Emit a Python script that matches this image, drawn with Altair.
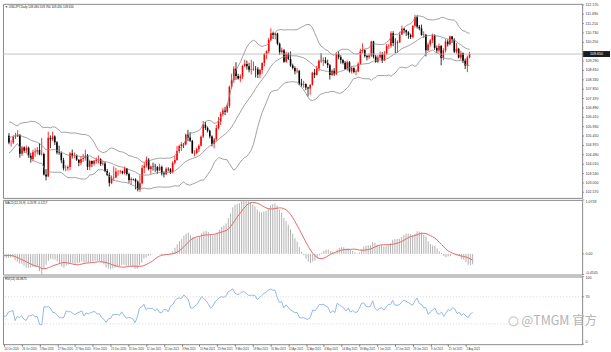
import altair as alt
import pandas as pd

# ---------------- data (USDJPY daily) ----------------
warmup_close = [105.95, 106.17, 106.17, 106.24, 106.25, 106.01, 106.18, 106.15, 106.16, 105.72,
                105.42, 104.95, 104.71, 104.57, 104.64, 104.94, 105.38, 105.39, 105.59, 105.49,
                105.68, 105.47, 105.54, 105.31, 105.73, 105.69, 105.97, 106.03, 105.61, 105.32, 105.47]

opens = [105.47, 105.12, 105.12, 105.40, 105.43, 105.51, 104.55, 104.87, 104.70, 104.85,
         104.44, 104.28, 104.62, 104.66, 104.73, 104.51, 104.53, 103.48, 103.38, 105.36,
         105.28, 105.43, 105.13, 104.61, 104.58, 104.21, 103.80, 103.80, 103.86, 104.56,
         104.44, 104.45, 104.24, 104.08, 104.27, 104.33, 104.45, 103.88, 104.17, 104.03,
         104.18, 104.24, 104.26, 104.02, 104.05, 103.66, 103.46, 103.05, 103.31, 103.33,
         103.63, 103.63, 103.65, 103.55, 103.80, 103.51, 103.20, 103.25, 103.22, 103.12,
         102.71, 103.04, 103.82, 103.94, 104.24, 103.76, 103.89, 103.88, 103.86, 103.69,
         103.87, 103.54, 103.50, 103.77, 103.75, 103.60, 104.08, 104.23, 104.68, 104.94,
         105.04, 105.02, 105.52, 105.38, 105.21, 104.56, 104.58, 104.78, 104.96, 105.42,
         106.04, 105.87, 105.72, 105.43, 105.06, 105.28, 105.86, 106.20, 106.57, 106.76,
         106.70, 107.00, 107.98, 108.31, 108.90, 108.52, 108.40, 108.50, 109.04, 109.14,
         109.02, 108.84, 108.86, 108.89, 108.87, 108.60, 108.83, 109.19, 109.65, 109.80,
         110.38, 110.72, 110.63, 110.70, 110.18, 109.75, 109.85, 109.26, 109.67, 109.40,
         109.07, 108.94, 108.77, 108.79, 108.14, 108.08, 108.11, 107.94, 107.89, 108.08,
         108.69, 108.59, 108.91, 109.31, 109.30, 109.33, 109.19, 109.08, 108.58, 108.80,
         108.61, 109.66, 109.49, 109.35, 109.20, 108.89, 109.23, 108.76, 108.94, 108.73,
         108.76, 109.15, 109.82, 109.86, 109.55, 109.48, 109.57, 110.29, 109.52, 109.25,
         109.47, 109.62, 109.32, 109.67, 110.06, 110.07, 110.71, 110.22, 110.21, 110.26,
         110.65, 110.94, 110.87, 110.76, 110.63, 110.52, 111.10, 111.53, 111.05, 110.96,
         110.62, 110.64, 109.85, 110.14, 110.35, 110.61, 109.96, 109.83, 110.06, 109.45,
         109.84, 110.29, 110.15, 110.55, 110.38, 109.77, 109.92, 109.47, 109.70, 109.30,
         109.06, 109.48]

highs = [105.60, 105.23, 105.48, 105.62, 105.75, 105.56, 104.94, 104.92, 104.96, 104.91,
         104.59, 104.75, 104.82, 104.89, 105.08, 105.35, 104.60, 103.76, 105.68, 105.48,
         105.68, 105.49, 105.19, 104.96, 104.66, 104.34, 103.95, 103.95, 104.64, 104.76,
         104.61, 104.51, 104.26, 104.41, 104.53, 104.75, 104.53, 104.24, 104.20, 104.23,
         104.35, 104.46, 104.32, 104.19, 104.12, 103.77, 103.59, 103.43, 103.90, 103.82,
         103.71, 103.72, 103.68, 103.89, 103.81, 103.57, 103.34, 103.27, 103.29, 103.18,
         103.44, 103.96, 104.10, 104.40, 104.32, 103.94, 104.09, 104.03, 103.92, 104.03,
         103.94, 103.65, 103.85, 103.85, 103.81, 104.16, 104.44, 104.94, 105.01, 105.14,
         105.10, 105.58, 105.77, 105.65, 105.25, 104.73, 104.86, 105.03, 105.48, 106.22,
         106.17, 105.94, 105.78, 105.49, 105.35, 106.02, 106.43, 106.69, 106.89, 106.94,
         107.12, 108.03, 108.64, 109.02, 109.23, 108.64, 108.61, 109.10, 109.36, 109.31,
         109.20, 109.36, 109.27, 109.04, 108.98, 108.90, 109.22, 109.70, 109.84, 110.48,
         110.97, 110.80, 110.74, 110.74, 110.24, 109.98, 109.91, 109.77, 109.73, 109.78,
         109.16, 109.02, 108.94, 108.83, 108.38, 108.28, 108.15, 107.98, 108.10, 108.74,
         108.88, 109.05, 109.37, 109.70, 109.48, 109.49, 109.36, 109.14, 108.87, 108.93,
         109.73, 109.79, 109.59, 109.39, 109.30, 109.32, 109.29, 109.03, 108.97, 108.86,
         109.23, 109.92, 110.20, 109.89, 109.62, 109.69, 110.33, 110.33, 109.61, 109.59,
         109.78, 109.75, 109.80, 110.16, 110.16, 110.82, 110.82, 110.46, 110.35, 110.79,
         111.11, 110.99, 110.90, 110.82, 110.70, 111.12, 111.66, 111.64, 111.14, 111.16,
         110.81, 110.68, 110.24, 110.43, 110.70, 110.66, 110.09, 110.19, 110.11, 109.95,
         110.41, 110.40, 110.59, 110.58, 110.46, 110.22, 109.96, 109.82, 109.73, 109.42,
         109.57, 109.76]

lows = [105.03, 104.91, 105.04, 105.30, 105.40, 104.34, 104.43, 104.60, 104.59, 104.34,
        104.09, 104.16, 104.40, 104.51, 104.47, 104.45, 103.43, 103.18, 103.36, 104.83,
        105.19, 104.99, 104.51, 104.49, 104.06, 103.69, 103.65, 103.68, 103.70, 104.30,
        104.31, 104.18, 103.90, 103.96, 104.12, 104.19, 103.71, 103.70, 103.86, 103.93,
        104.04, 104.05, 103.92, 103.94, 103.60, 103.40, 102.87, 102.99, 103.15, 103.30,
        103.42, 103.52, 103.49, 103.48, 103.43, 103.06, 102.96, 103.17, 102.72, 102.62,
        102.59, 102.99, 103.55, 103.84, 103.69, 103.52, 103.68, 103.62, 103.52, 103.66,
        103.43, 103.33, 103.46, 103.64, 103.51, 103.54, 104.00, 104.18, 104.59, 104.69,
        104.84, 104.97, 105.19, 105.15, 104.60, 104.41, 104.52, 104.63, 104.92, 105.35,
        105.76, 105.63, 105.33, 104.92, 104.82, 105.21, 105.80, 106.02, 106.46, 106.52,
        106.63, 106.88, 107.88, 108.17, 108.33, 108.34, 108.21, 108.38, 108.98, 108.85,
        108.71, 108.60, 108.79, 108.45, 108.42, 108.41, 108.64, 109.02, 109.40, 109.68,
        110.31, 110.42, 110.40, 110.10, 109.61, 109.63, 109.20, 109.20, 109.34, 108.99,
        108.86, 108.61, 108.67, 108.05, 107.98, 107.92, 107.80, 107.48, 107.56, 108.03,
        108.42, 108.56, 108.77, 109.21, 109.04, 109.16, 108.93, 108.34, 108.52, 108.53,
        108.58, 109.38, 109.16, 109.12, 108.83, 108.80, 108.70, 108.65, 108.66, 108.56,
        108.72, 109.11, 109.70, 109.47, 109.32, 109.39, 109.50, 109.42, 109.20, 109.19,
        109.42, 109.19, 109.30, 109.61, 109.91, 109.97, 110.05, 109.70, 109.72, 110.21,
        110.62, 110.70, 110.57, 110.43, 110.42, 110.45, 111.00, 110.95, 110.87, 110.59,
        110.47, 109.53, 109.80, 110.03, 110.21, 109.86, 109.70, 109.72, 109.07, 109.33,
        109.73, 110.03, 110.10, 110.22, 109.70, 109.66, 109.43, 109.36, 109.19, 108.88,
        108.72, 109.43]

closes = [105.12, 105.12, 105.40, 105.43, 105.51, 104.55, 104.87, 104.70, 104.85, 104.44,
          104.28, 104.62, 104.66, 104.73, 104.51, 104.53, 103.48, 103.38, 105.36, 105.28,
          105.43, 105.13, 104.61, 104.58, 104.21, 103.80, 103.80, 103.86, 104.56, 104.44,
          104.45, 104.24, 104.08, 104.27, 104.33, 104.45, 103.88, 104.17, 104.03, 104.18,
          104.24, 104.26, 104.02, 104.05, 103.66, 103.46, 103.05, 103.31, 103.33, 103.63,
          103.63, 103.65, 103.55, 103.80, 103.51, 103.20, 103.25, 103.22, 103.12, 102.71,
          103.04, 103.82, 103.94, 104.24, 103.76, 103.89, 103.88, 103.86, 103.69, 103.87,
          103.54, 103.50, 103.77, 103.75, 103.60, 104.08, 104.23, 104.68, 104.94, 105.04,
          105.02, 105.52, 105.38, 105.21, 104.56, 104.58, 104.78, 104.96, 105.42, 106.04,
          105.87, 105.72, 105.43, 105.06, 105.28, 105.86, 106.20, 106.57, 106.76, 106.70,
          107.00, 107.98, 108.31, 108.90, 108.52, 108.40, 108.50, 109.04, 109.14, 109.02,
          108.84, 108.86, 108.89, 108.87, 108.60, 108.83, 109.19, 109.65, 109.80, 110.38,
          110.72, 110.63, 110.70, 110.18, 109.75, 109.85, 109.26, 109.67, 109.40, 109.07,
          108.94, 108.77, 108.79, 108.14, 108.08, 108.11, 107.94, 107.89, 108.08, 108.69,
          108.59, 108.91, 109.31, 109.30, 109.33, 109.19, 109.08, 108.58, 108.80, 108.61,
          109.66, 109.49, 109.35, 109.20, 108.89, 109.23, 108.76, 108.94, 108.73, 108.76,
          109.15, 109.82, 109.86, 109.55, 109.48, 109.57, 110.29, 109.52, 109.25, 109.47,
          109.62, 109.32, 109.67, 110.06, 110.07, 110.71, 110.22, 110.21, 110.26, 110.65,
          110.94, 110.87, 110.76, 110.63, 110.52, 111.10, 111.53, 111.05, 110.96, 110.62,
          110.64, 109.85, 110.14, 110.35, 110.61, 109.96, 109.83, 110.06, 109.45, 109.84,
          110.29, 110.15, 110.55, 110.38, 109.77, 109.92, 109.47, 109.70, 109.30, 109.06,
          109.48, 109.65]

price_ticks = [112.17, 111.69, 111.21, 110.73, 110.25, 109.29, 108.81, 108.33, 107.85,
               107.37, 106.89, 106.41, 105.93, 105.45, 104.97, 104.49, 104.01, 103.53,
               103.05, 102.57]
rsi_ticks = [100, 70, 0]
rsi_levels = [70, 30]
main_title = "\u25bc USDJPY,Daily  109.480 109.760 109.430 109.650"
watermark = "@TMGM 官方"

n = len(closes)
assert len(opens) == n and len(highs) == n and len(lows) == n

dates = pd.bdate_range("2020-10-14", periods=n)
tick_idx = list(range(0, n, 8))
tick_labels = [f"{dates[i].day} {dates[i].strftime('%b %Y')}" for i in tick_idx]

# ---------------- indicators (derived from the closes) ----------------
allc = pd.Series(warmup_close + closes, dtype=float)
sma = allc.rolling(20, min_periods=1).mean()
sd = allc.rolling(20, min_periods=1).std(ddof=0)
ema12 = allc.ewm(span=12, adjust=False).mean()
ema26 = allc.ewm(span=26, adjust=False).mean()
macd = ema12 - ema26
signal = macd.rolling(9, min_periods=1).mean()
delta = allc.diff().fillna(0)
gain = delta.clip(lower=0).ewm(alpha=1 / 14, adjust=False).mean()
loss = (-delta.clip(upper=0)).ewm(alpha=1 / 14, adjust=False).mean()
rsi = 100 - 100 / (1 + gain / loss)

k = len(warmup_close)
df = pd.DataFrame({"i": range(n), "open": opens, "high": highs, "low": lows, "close": closes,
                   "mid": sma[k:].values, "up": (sma + 2 * sd)[k:].values,
                   "dn": (sma - 2 * sd)[k:].values,
                   "macd": macd[k:].values, "signal": signal[k:].values,
                   "rsi": rsi[k:].values, "zero": 0.0})

FONT = "Liberation Sans"
LBL = 3.6
W = 582
x_scale = alt.Scale(domain=[-0.45, 260.3], nice=False, zero=False)


def X(axis=None):
    return alt.X("i:Q", scale=x_scale, axis=axis, title=None)


def right_labels(values, labels, scale, baselines=None):
    """Price-scale labels drawn on the right edge of a panel, through its y scale."""
    if baselines is None:
        baselines = ["middle"] * len(values)
    d = pd.DataFrame({"v": values, "s": labels, "b": baselines})
    layers = [alt.Chart(d).mark_rule(color="#777", strokeWidth=0.7).encode(
        x=alt.value(W), x2=alt.value(W + 2), y=alt.Y("v:Q", scale=scale, axis=None))]
    for b in sorted(set(baselines)):
        layers.append(alt.Chart(d[d.b == b]).mark_text(
            align="left", baseline=b, fontSize=LBL, color="#333", font=FONT).encode(
            x=alt.value(W + 3.5), y=alt.Y("v:Q", scale=scale, axis=None), text="s:N"))
    return layers


def panel_title(text):
    return alt.Chart(pd.DataFrame({"t": [text]})).mark_text(
        align="left", baseline="top", fontSize=3, color="#222", font=FONT).encode(
        x=alt.value(2), y=alt.value(2), text="t:N")


# ---------------- main panel ----------------
ys = alt.Scale(domain=[102.284, 112.22], nice=False, zero=False)
candle_color = alt.condition("datum.close >= datum.open", alt.value("#ff0000"), alt.value("#000000"))
base = alt.Chart(df)
wick = base.mark_rule(strokeWidth=0.8).encode(
    x=X(), y=alt.Y("low:Q", scale=ys, axis=None), y2="high:Q", color=candle_color)
body = base.mark_bar(size=1.6).encode(
    x=X(), y=alt.Y("open:Q", scale=ys, axis=None), y2="close:Q", color=candle_color)
bands = [base.mark_line(color="#8a8a8a", strokeWidth=0.8).encode(
    x=X(), y=alt.Y(f"{b}:Q", scale=ys, axis=None)) for b in ["up", "mid", "dn"]]
last = pd.DataFrame({"p": [closes[-1]]})
price_rule = alt.Chart(last).mark_rule(color="#b4b4b4", strokeWidth=0.8).encode(
    y=alt.Y("p:Q", scale=ys, axis=None))
price_box = alt.Chart(last).mark_tick(thickness=6, size=27, color="#1c1c1c", opacity=1).encode(
    x=alt.value(W + 14.5), y=alt.Y("p:Q", scale=ys, axis=None))
price_txt = alt.Chart(last).mark_text(color="white", fontSize=LBL, font=FONT).encode(
    x=alt.value(W + 14.5), y=alt.Y("p:Q", scale=ys, axis=None), text=alt.Text("p:Q", format=".3f"))
main = alt.layer(wick, body, *bands, price_rule,
                 *right_labels(price_ticks, [f"{v:.3f}" for v in price_ticks], ys),
                 price_box, price_txt, panel_title(main_title)).properties(width=W, height=195)

# ---------------- MACD panel ----------------
mmax = float(max(df.macd.max(), df.signal.max()))
mmin = float(min(df.macd.min(), df.signal.min()))
ms = alt.Scale(domain=[mmin, mmax], nice=False, zero=False)
macd_vals = [mmax, 0.0, mmin]
macd_lbls = [f"{mmax:.4f}", "0.00", f"{mmin:.4f}"]
hist = base.mark_rule(color="#a9a9a9", strokeWidth=0.9).encode(
    x=X(), y=alt.Y("macd:Q", scale=ms, axis=None), y2="zero:Q")
sig = base.mark_line(color="#e5696b", strokeWidth=1).encode(
    x=X(), y=alt.Y("signal:Q", scale=ms, axis=None))
macd_title = "MACD(12,26,9) {:.4f} {:.4f}".format(df.macd.iloc[-1], df.signal.iloc[-1])
macd_panel = alt.layer(hist, sig,
                       *right_labels(macd_vals, macd_lbls, ms, ["top", "middle", "bottom"]),
                       panel_title(macd_title)).properties(width=W, height=75)

# ---------------- RSI panel ----------------
rs = alt.Scale(domain=[0, 100], nice=False)
x_axis = alt.Axis(values=tick_idx,
                  labelExpr="[" + ",".join(f"'{t}'" for t in tick_labels) + "][datum.value / 8]",
                  labelFontSize=2.7, labelColor="#333", labelAlign="left", tickSize=2,
                  tickColor="#777", domain=False, labelPadding=1, labelOverlap=False,
                  labelFlush=False, labelBound=False, minExtent=7, maxExtent=7, grid=False,
                  labelFont=FONT, title=None)
rsi_line = base.mark_line(color="#86b0e6", strokeWidth=0.9).encode(
    x=X(x_axis), y=alt.Y("rsi:Q", scale=rs, axis=None))
levels = alt.Chart(pd.DataFrame({"lv": rsi_levels})).mark_rule(
    color="#c4c4c4", strokeWidth=0.7, strokeDash=[1, 2]).encode(
    y=alt.Y("lv:Q", scale=rs, axis=None))
rsi_title = "RSI(14) {:.4f}".format(df.rsi.iloc[-1])
wm_df = pd.DataFrame({"t": [watermark]})
logo = alt.Chart(wm_df).mark_point(shape="circle", size=80, filled=False, color="#bdbdbd",
                                   strokeWidth=1.3).encode(x=alt.value(513), y=alt.value(45))
wm = alt.Chart(wm_df).mark_text(align="left", baseline="middle", fontSize=12.5, color="#b4b4b4",
                                font="Noto Sans CJK SC").encode(
    x=alt.value(521), y=alt.value(45), text="t:N")
rsi_panel = alt.layer(rsi_line, levels,
                      *right_labels(rsi_ticks, [str(v) for v in rsi_ticks], rs,
                                    ["top", "middle", "bottom"]),
                      panel_title(rsi_title), logo, wm).properties(width=W, height=68)

chart = alt.vconcat(main, macd_panel, rsi_panel, spacing=2, bounds="flush").properties(
    padding={"left": 1, "top": 1, "right": 0, "bottom": 0}, background="white"
).configure_view(stroke="#8a8a8a", strokeWidth=1)

chart.save("out.html", embed_options={"renderer": "svg", "actions": False})
